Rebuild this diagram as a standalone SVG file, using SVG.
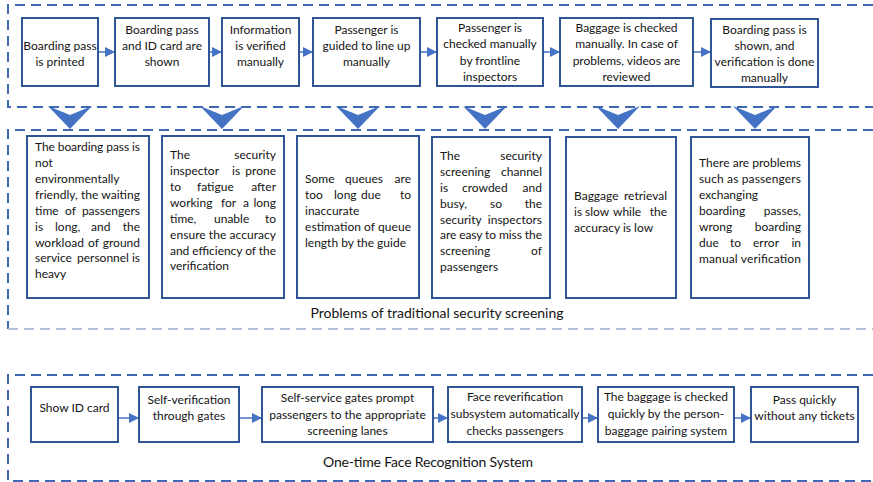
<svg xmlns="http://www.w3.org/2000/svg" width="873" height="482" viewBox="0 0 873 482">
  <style>
    .frame { fill: none; stroke: #4068B0; stroke-width: 2; stroke-dasharray: 10 6; }
    .frame-soft { fill: none; stroke: #B3C1DE; stroke-width: 2; stroke-dasharray: 10 6; }
    .box { fill: #FFFFFF; stroke: #2F5597; stroke-width: 2; }
    .chev { fill: #4472C4; }
    .flow { fill: none; stroke: #4472C4; stroke-width: 1.5; marker-end: url(#ah); }
    .t { font-family: Lato, "Liberation Sans", sans-serif; font-size: 12px; fill: #141414; }
    .c { text-anchor: middle; }
    .e { text-anchor: end; }
    .lbl { font-family: Lato, "Liberation Sans", sans-serif; font-size: 14px; fill: #141414; text-anchor: middle; }
  </style>
  <defs>
    <marker id="ah" markerUnits="userSpaceOnUse" markerWidth="10" markerHeight="10" refX="10" refY="5" orient="auto">
      <path d="M0,0 L10,5 L0,10 Z" fill="#4472C4"/>
    </marker>
  </defs>

  <rect width="873" height="482" fill="#FFFFFF"/>

  <!-- dashed group frames (open on the right) -->
  <g id="frames">
    <path class="frame" d="M873,5 H8 V107 H873"/>
    <path class="frame" d="M873,130 H8 V329"/>
    <path class="frame-soft" d="M8,329 H873"/>
    <path class="frame" d="M873,375 H8 V481 H873"/>
  </g>

  <!-- connectors -->
  <g id="connectors">
    <line class="flow" x1="99" y1="52" x2="115" y2="52"/>
    <line class="flow" x1="210" y1="52" x2="222" y2="52"/>
    <line class="flow" x1="300" y1="52" x2="313" y2="52"/>
    <line class="flow" x1="421" y1="52" x2="437" y2="52"/>
    <line class="flow" x1="544" y1="52" x2="560" y2="52"/>
    <line class="flow" x1="694" y1="52" x2="711" y2="52"/>

    <line class="flow" x1="119" y1="418" x2="139" y2="418"/>
    <line class="flow" x1="240" y1="418" x2="262" y2="418"/>
    <line class="flow" x1="434" y1="418" x2="448" y2="418"/>
    <line class="flow" x1="583" y1="418" x2="598" y2="418"/>
    <line class="flow" x1="735" y1="418" x2="751" y2="418"/>

    <!-- downward chevrons between the two upper frames -->
    <path class="chev" d="M48,106 L70,115 L92,106 L70,129 Z"/>
    <path class="chev" d="M200,106 L222,115 L244,106 L222,129 Z"/>
    <path class="chev" d="M336,106 L358,115 L380,106 L358,129 Z"/>
    <path class="chev" d="M463,106 L485,115 L507,106 L485,129 Z"/>
    <path class="chev" d="M596,106 L618,115 L640,106 L618,129 Z"/>
    <path class="chev" d="M733,106 L755,115 L777,106 L755,129 Z"/>
  </g>

  <!-- traditional process -->
  <g id="step-print">
    <rect class="box" x="22" y="18" width="76" height="68"/>
    <text class="t c" x="60" y="49.5">Boarding pass</text>
    <text class="t c" x="60" y="65.5">is printed</text>
  </g>
  <g id="step-show">
    <rect class="box" x="115" y="18" width="94" height="68"/>
    <text class="t c" x="162" y="33.5">Boarding pass</text>
    <text class="t c" x="162" y="49.5">and ID card are</text>
    <text class="t c" x="162" y="65.5">shown</text>
  </g>
  <g id="step-verify">
    <rect class="box" x="222" y="18" width="77" height="68"/>
    <text class="t c" x="260.5" y="33.5">Information</text>
    <text class="t c" x="260.5" y="49.5">is verified</text>
    <text class="t c" x="260.5" y="65.5">manually</text>
  </g>
  <g id="step-queue">
    <rect class="box" x="313" y="18" width="107" height="68"/>
    <text class="t c" x="366.5" y="33.5">Passenger is</text>
    <text class="t c" x="366.5" y="49.5">guided to line up</text>
    <text class="t c" x="366.5" y="65.5">manually</text>
  </g>
  <g id="step-inspect">
    <rect class="box" x="437" y="18" width="106" height="68"/>
    <text class="t c" x="490" y="32">Passenger is</text>
    <text class="t c" x="490" y="48">checked manually</text>
    <text class="t c" x="490" y="64.5">by frontline</text>
    <text class="t c" x="490" y="80.5">inspectors</text>
  </g>
  <g id="step-baggage">
    <rect class="box" x="560" y="18" width="133" height="68"/>
    <text class="t c" x="626.5" y="32">Baggage is checked</text>
    <text class="t c" x="626.5" y="48">manually. In case of</text>
    <text class="t c" x="626.5" y="64.5">problems, videos are</text>
    <text class="t c" x="626.5" y="80.5">reviewed</text>
  </g>
  <g id="step-board">
    <rect class="box" x="711" y="19" width="107" height="68"/>
    <text class="t c" x="764.5" y="33.5">Boarding pass is</text>
    <text class="t c" x="764.5" y="49.5">shown, and</text>
    <text class="t c" x="764.5" y="65.5">verification is done</text>
    <text class="t c" x="764.5" y="81.5">manually</text>
  </g>

  <!-- problems of the traditional process -->
  <g id="problem-pass">
    <rect class="box" x="27" y="136" width="122" height="162"/>
    <text class="t" x="35" y="151" textLength="105" lengthAdjust="spacing">The boarding pass is</text>
    <text class="t" x="35" y="167">not</text>
    <text class="t" x="35" y="183">environmentally</text>
    <text class="t" x="35" y="198.5" textLength="105" lengthAdjust="spacing">friendly, the waiting</text>
    <text class="t" x="35" y="214.5">time</text><text class="t" x="65" y="214.5">of</text><text class="t e" x="140" y="214.5">passengers</text>
    <text class="t" x="35" y="230.5">is</text><text class="t" x="55" y="230.5">long,</text><text class="t" x="91" y="230.5">and</text><text class="t e" x="140" y="230.5">the</text>
    <text class="t" x="35" y="246.5">workload</text><text class="t" x="88" y="246.5">of</text><text class="t e" x="140" y="246.5">ground</text>
    <text class="t" x="35" y="262">service</text><text class="t" x="77" y="262">personnel</text><text class="t e" x="140" y="262">is</text>
    <text class="t" x="35" y="278">heavy</text>
  </g>
  <g id="problem-fatigue">
    <rect class="box" x="162" y="136" width="122" height="162"/>
    <text class="t" x="170" y="158.5">The</text><text class="t e" x="276" y="158.5">security</text>
    <text class="t" x="170" y="174.5">inspector</text><text class="t" x="232" y="174.5">is</text><text class="t e" x="276" y="174.5">prone</text>
    <text class="t" x="170" y="190.5">to</text><text class="t" x="197" y="190.5">fatigue</text><text class="t e" x="276" y="190.5">after</text>
    <text class="t" x="170" y="206.5">working</text><text class="t" x="221" y="206.5">for</text><text class="t" x="243" y="206.5">a</text><text class="t e" x="276" y="206.5">long</text>
    <text class="t" x="170" y="222.5">time,</text><text class="t" x="214" y="222.5">unable</text><text class="t e" x="276" y="222.5">to</text>
    <text class="t" x="170" y="238.5" textLength="106" lengthAdjust="spacing">ensure the accuracy</text>
    <text class="t" x="170" y="254.5" textLength="106" lengthAdjust="spacing">and efficiency of the</text>
    <text class="t" x="170" y="270">verification</text>
  </g>
  <g id="problem-queue">
    <rect class="box" x="297" y="136" width="122" height="162"/>
    <text class="t" x="305" y="183">Some</text><text class="t" x="345" y="183">queues</text><text class="t e" x="411" y="183">are</text>
    <text class="t" x="305" y="198.5">too</text><text class="t" x="334" y="198.5">long</text><text class="t" x="361" y="198.5">due</text><text class="t e" x="411" y="198.5">to</text>
    <text class="t" x="305" y="214.5">inaccurate</text>
    <text class="t" x="305" y="230.5" textLength="106" lengthAdjust="spacing">estimation of queue</text>
    <text class="t" x="305" y="246.5">length by the guide</text>
  </g>
  <g id="problem-crowd">
    <rect class="box" x="432" y="137" width="118" height="161"/>
    <text class="t" x="440" y="159.5">The</text><text class="t e" x="542" y="159.5">security</text>
    <text class="t" x="440" y="175.5">screening</text><text class="t e" x="542" y="175.5">channel</text>
    <text class="t" x="440" y="191.5">is</text><text class="t" x="462" y="191.5">crowded</text><text class="t e" x="542" y="191.5">and</text>
    <text class="t" x="440" y="207.5">busy,</text><text class="t" x="490" y="207.5">so</text><text class="t e" x="542" y="207.5">the</text>
    <text class="t" x="440" y="223.5">security</text><text class="t e" x="542" y="223.5">inspectors</text>
    <text class="t" x="440" y="239" textLength="102" lengthAdjust="spacing">are easy to miss the</text>
    <text class="t" x="440" y="255">screening</text><text class="t e" x="542" y="255">of</text>
    <text class="t" x="440" y="271">passengers</text>
  </g>
  <g id="problem-retrieval">
    <rect class="box" x="566" y="137" width="110" height="161"/>
    <text class="t" x="574" y="199.5">Baggage</text><text class="t e" x="667" y="199.5">retrieval</text>
    <text class="t" x="574" y="215.5">is</text><text class="t" x="585" y="215.5">slow</text><text class="t" x="613" y="215.5">while</text><text class="t e" x="667" y="215.5">the</text>
    <text class="t" x="574" y="231.5">accuracy is low</text>
  </g>
  <g id="problem-exchange">
    <rect class="box" x="691" y="137" width="118" height="161"/>
    <text class="t" x="699" y="167" textLength="102" lengthAdjust="spacing">There are problems</text>
    <text class="t" x="699" y="183" textLength="102" lengthAdjust="spacing">such as passengers</text>
    <text class="t" x="699" y="199">exchanging</text>
    <text class="t" x="699" y="215">boarding</text><text class="t e" x="801" y="215">passes,</text>
    <text class="t" x="699" y="231">wrong</text><text class="t e" x="801" y="231">boarding</text>
    <text class="t" x="699" y="247">due</text><text class="t" x="730" y="247">to</text><text class="t" x="753" y="247">error</text><text class="t e" x="801" y="247">in</text>
    <text class="t" x="699" y="263" textLength="102" lengthAdjust="spacing">manual verification</text>
  </g>
  <text id="label-problems" class="lbl" x="437" y="317.5" textLength="253" lengthAdjust="spacing">Problems of traditional security screening</text>

  <!-- face recognition process -->
  <g id="face-id">
    <rect class="box" x="31" y="387" width="87" height="55"/>
    <text class="t c" x="74.5" y="411.5">Show ID card</text>
  </g>
  <g id="face-gates">
    <rect class="box" x="139" y="387" width="100" height="55"/>
    <text class="t c" x="189" y="403.5">Self-verification</text>
    <text class="t c" x="189" y="420">through gates</text>
  </g>
  <g id="face-lanes">
    <rect class="box" x="262" y="387" width="171" height="55"/>
    <text class="t c" x="347.5" y="401.5">Self-service gates prompt</text>
    <text class="t c" x="347.5" y="418.5">passengers to the appropriate</text>
    <text class="t c" x="347.5" y="435">screening lanes</text>
  </g>
  <g id="face-recheck">
    <rect class="box" x="448" y="387" width="134" height="55"/>
    <text class="t c" x="515" y="401">Face reverification</text>
    <text class="t c" x="515" y="418">subsystem automatically</text>
    <text class="t c" x="515" y="435">checks passengers</text>
  </g>
  <g id="face-baggage">
    <rect class="box" x="598" y="387" width="136" height="55"/>
    <text class="t c" x="666" y="401">The baggage is checked</text>
    <text class="t c" x="666" y="418">quickly by the person-</text>
    <text class="t c" x="666" y="435">baggage pairing system</text>
  </g>
  <g id="face-pass">
    <rect class="box" x="751" y="387" width="107" height="55"/>
    <text class="t c" x="804.5" y="403.5">Pass quickly</text>
    <text class="t c" x="804.5" y="420">without any tickets</text>
  </g>
  <text id="label-face" class="lbl" x="428" y="467" textLength="210" lengthAdjust="spacing">One-time Face Recognition System</text>
</svg>
